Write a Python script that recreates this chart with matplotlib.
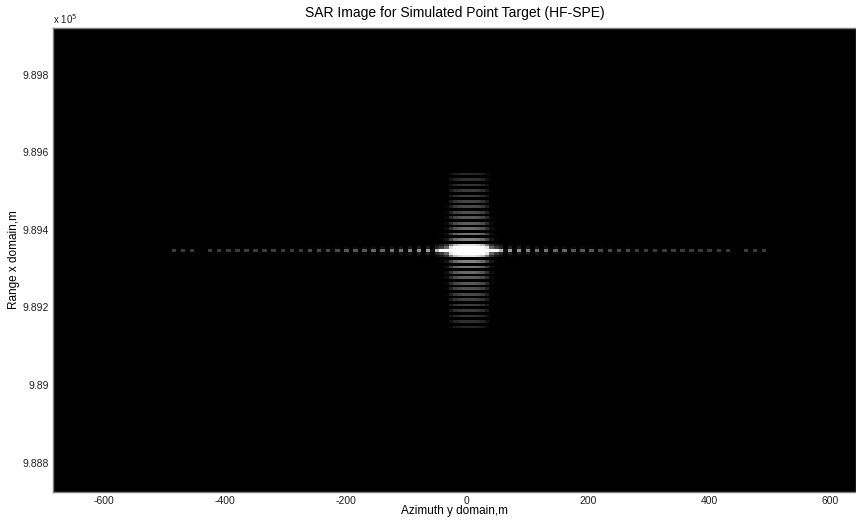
import numpy as np
import matplotlib
matplotlib.use("Agg")
import matplotlib.pyplot as plt
from matplotlib.colors import Normalize

plt.rcParams['font.family'] = ['Liberation Sans', 'DejaVu Sans']

# ---- data ----
target_azimuth = 3.0          # m
target_range = 989346.0       # m
az_step = 7.5                 # m per image column
rg_step = 7.0                 # m per image row

# azimuth profile (relative amplitude, %), from centre outwards
az_center = 100
az_right = [100, 95, 85, 60, 30, 20, 15, 3, 13, 2,
            12, 2, 11, 2, 10, 2, 10, 2, 9, 2,
            9, 2, 8, 1, 8, 1, 8, 1, 7, 1,
            7, 1, 7, 1, 7, 1, 6, 1, 6, 1,
            6, 1, 6, 1, 6, 1, 6, 1, 6, 1,
            6, 1, 6, 1, 6, 1, 6, 1, 1, 1,
            6, 1, 6, 1, 6, 1]
az_left = [100, 95, 85, 60, 30, 20, 15, 3, 13, 2,
           12, 2, 11, 2, 10, 2, 10, 2, 9, 2,
           9, 2, 8, 1, 8, 1, 8, 1, 7, 1,
           7, 1, 7, 1, 7, 1, 6, 1, 6, 1,
           6, 1, 6, 1, 6, 1, 6, 1, 6, 1,
           6, 1, 6, 1, 6, 1, 6, 1, 1, 1,
           6, 1, 6, 1, 6, 1]

# range profile (display gain), from centre outwards
rg_center = 5.0
rg_up = [1.5, 0.9, 0.05, 0.55, 0.03, 0.5, 0.03, 0.46, 0.03, 0.42,
         0.03, 0.4, 0.03, 0.37, 0.03, 0.35, 0.02, 0.33, 0.02, 0.31,
         0.02, 0.3, 0.02, 0.28, 0.02, 0.26, 0.02, 0.23, 0.02]
rg_down = [1.5, 0.9, 0.05, 0.55, 0.03, 0.5, 0.03, 0.46, 0.03, 0.42,
           0.03, 0.4, 0.03, 0.37, 0.03, 0.35, 0.02, 0.33, 0.02, 0.31,
           0.02, 0.3, 0.02, 0.28, 0.02, 0.26, 0.02, 0.22, 0.02]

x_ticks = [-600, -400, -200, 0, 200, 400, 600]
y_ticks = [988800, 989000, 989200, 989400, 989600, 989800]
y_ticklabels = ['9.888', '9.89', '9.892', '9.894', '9.896', '9.898']
x_limits = (-684, 643)
y_limits = (988724, 989921)

# ---- build image ----
az_prof = np.array(az_left[::-1] + [az_center] + az_right, dtype=float) / 100.0
rg_prof = np.array(rg_down[::-1] + [rg_center] + rg_up, dtype=float)
img = np.outer(rg_prof, az_prof)

n_az_left, n_az_right = len(az_left), len(az_right)
n_rg_down, n_rg_up = len(rg_down), len(rg_up)
extent = [target_azimuth - (n_az_left + 0.5) * az_step,
          target_azimuth + (n_az_right + 0.5) * az_step,
          target_range - (n_rg_down + 0.5) * rg_step,
          target_range + (n_rg_up + 0.5) * rg_step]

fig = plt.figure(figsize=(8.56, 5.21), dpi=100)
ax = fig.add_axes([53 / 856, 29 / 521, 1 - 53 / 856, (492 - 28) / 521])
ax.set_facecolor('black')
ax.imshow(img, cmap='gray', norm=Normalize(vmin=0.09, vmax=1.0, clip=True),
          extent=extent, origin='lower', aspect='auto', interpolation='nearest')
ax.set_xlim(*x_limits)
ax.set_ylim(*y_limits)

ax.set_xticks(x_ticks)
ax.set_xticklabels([str(v) for v in x_ticks])
ax.set_yticks(y_ticks)
ax.set_yticklabels(y_ticklabels)
ax.tick_params(axis='both', labelsize=7.5, colors='#202020', length=0, pad=3)
for s in ax.spines.values():
    s.set_color('#7f7f7f')
    s.set_linewidth(1.0)

ax.set_title('SAR Image for Simulated Point Target (HF-SPE)', fontsize=10, pad=8)
ax.set_xlabel('Azimuth y domain,m', fontsize=8.5, labelpad=-1)
ax.set_ylabel('Range x domain,m', fontsize=8.5, labelpad=2)
ax.text(0.0, 1.005, r'x 10$^5$', transform=ax.transAxes, fontsize=7,
        ha='left', va='bottom', color='#202020')

fig.savefig('out.png', dpi=100, facecolor='white')
